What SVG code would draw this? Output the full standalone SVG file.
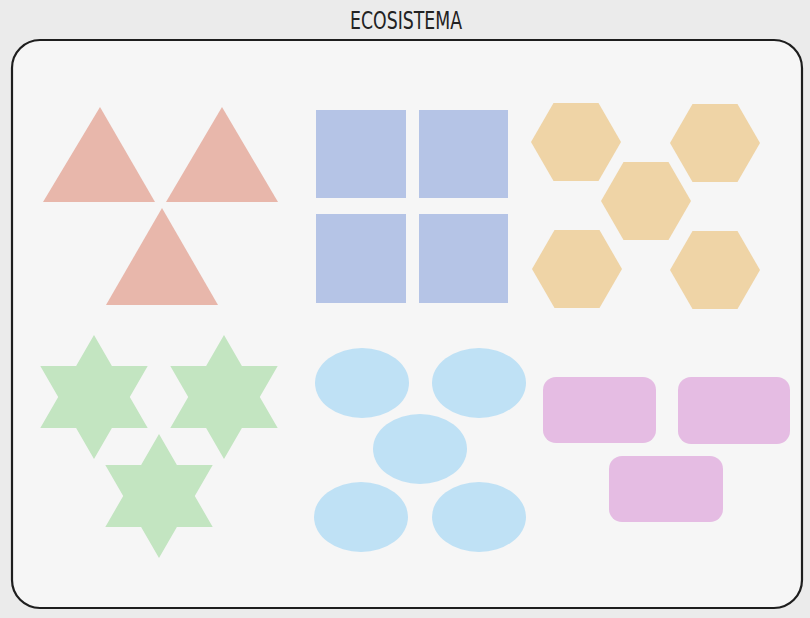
<svg xmlns="http://www.w3.org/2000/svg" xmlns:xlink="http://www.w3.org/1999/xlink" width="810" height="618" viewBox="0 0 810 618">
  <style>
    .title { font-family: "DejaVu Sans Condensed", "Liberation Sans", sans-serif; font-size: 25px; fill: #222; }
    .frame { fill: #f6f6f6; stroke: #1e1e1e; stroke-width: 2.2; }
    .tri { fill: #e8b7ab; }
    .sq { fill: #b5c4e6; }
    .hex { fill: #efd4a6; }
    .star { fill: #c3e5c1; }
    .ell { fill: #bfe1f5; }
    .rr { fill: #e5bce3; }
  </style>
  <defs>
    <polygon id="hexShape" points="-45,0 -22.5,-39 22.5,-39 45,0 22.5,39 -22.5,39"/>
    <polygon id="starShape" points="0,-62 17.9,-31 53.7,-31 35.8,0 53.7,31 17.9,31 0,62 -17.9,31 -53.7,31 -35.8,0 -53.7,-31 -17.9,-31"/>
  </defs>
  <rect x="0" y="0" width="810" height="618" fill="#ebebeb"/>
  <text class="title" x="406" y="29" text-anchor="middle" textLength="112" lengthAdjust="spacingAndGlyphs">ECOSISTEMA</text>
  <rect id="frame" class="frame" x="12" y="40" width="790" height="568" rx="28" ry="28"/>

  <g id="connectors"/>

  <g id="triangles">
    <g id="tri1"><polygon class="tri" points="100,107 155,202 43,202"/></g>
    <g id="tri2"><polygon class="tri" points="222,107 278,202 166,202"/></g>
    <g id="tri3"><polygon class="tri" points="162,208 218,305 106,305"/></g>
  </g>

  <g id="squares">
    <g id="sq1"><rect class="sq" x="316" y="110" width="90" height="88"/></g>
    <g id="sq2"><rect class="sq" x="419" y="110" width="89" height="88"/></g>
    <g id="sq3"><rect class="sq" x="316" y="214" width="90" height="89"/></g>
    <g id="sq4"><rect class="sq" x="419" y="214" width="89" height="89"/></g>
  </g>

  <g id="hexagons">
    <g id="hex1"><use xlink:href="#hexShape" href="#hexShape" class="hex" transform="translate(576,142)"/></g>
    <g id="hex2"><use xlink:href="#hexShape" href="#hexShape" class="hex" transform="translate(715,143)"/></g>
    <g id="hex3"><use xlink:href="#hexShape" href="#hexShape" class="hex" transform="translate(646,201)"/></g>
    <g id="hex4"><use xlink:href="#hexShape" href="#hexShape" class="hex" transform="translate(577,269)"/></g>
    <g id="hex5"><use xlink:href="#hexShape" href="#hexShape" class="hex" transform="translate(715,270)"/></g>
  </g>

  <g id="stars">
    <g id="star1"><use xlink:href="#starShape" href="#starShape" class="star" transform="translate(94,397)"/></g>
    <g id="star2"><use xlink:href="#starShape" href="#starShape" class="star" transform="translate(224,397)"/></g>
    <g id="star3"><use xlink:href="#starShape" href="#starShape" class="star" transform="translate(159,496)"/></g>
  </g>

  <g id="ellipses">
    <g id="ell1"><ellipse class="ell" cx="362" cy="383" rx="47" ry="35"/></g>
    <g id="ell2"><ellipse class="ell" cx="479" cy="383" rx="47" ry="35"/></g>
    <g id="ell3"><ellipse class="ell" cx="420" cy="449" rx="47" ry="35"/></g>
    <g id="ell4"><ellipse class="ell" cx="361" cy="517" rx="47" ry="35"/></g>
    <g id="ell5"><ellipse class="ell" cx="479" cy="517" rx="47" ry="35"/></g>
  </g>

  <g id="roundrects">
    <g id="rr1"><rect class="rr" x="543" y="377" width="113" height="66" rx="13" ry="13"/></g>
    <g id="rr2"><rect class="rr" x="678" y="377" width="112" height="67" rx="13" ry="13"/></g>
    <g id="rr3"><rect class="rr" x="609" y="456" width="114" height="66" rx="13" ry="13"/></g>
  </g>
</svg>
